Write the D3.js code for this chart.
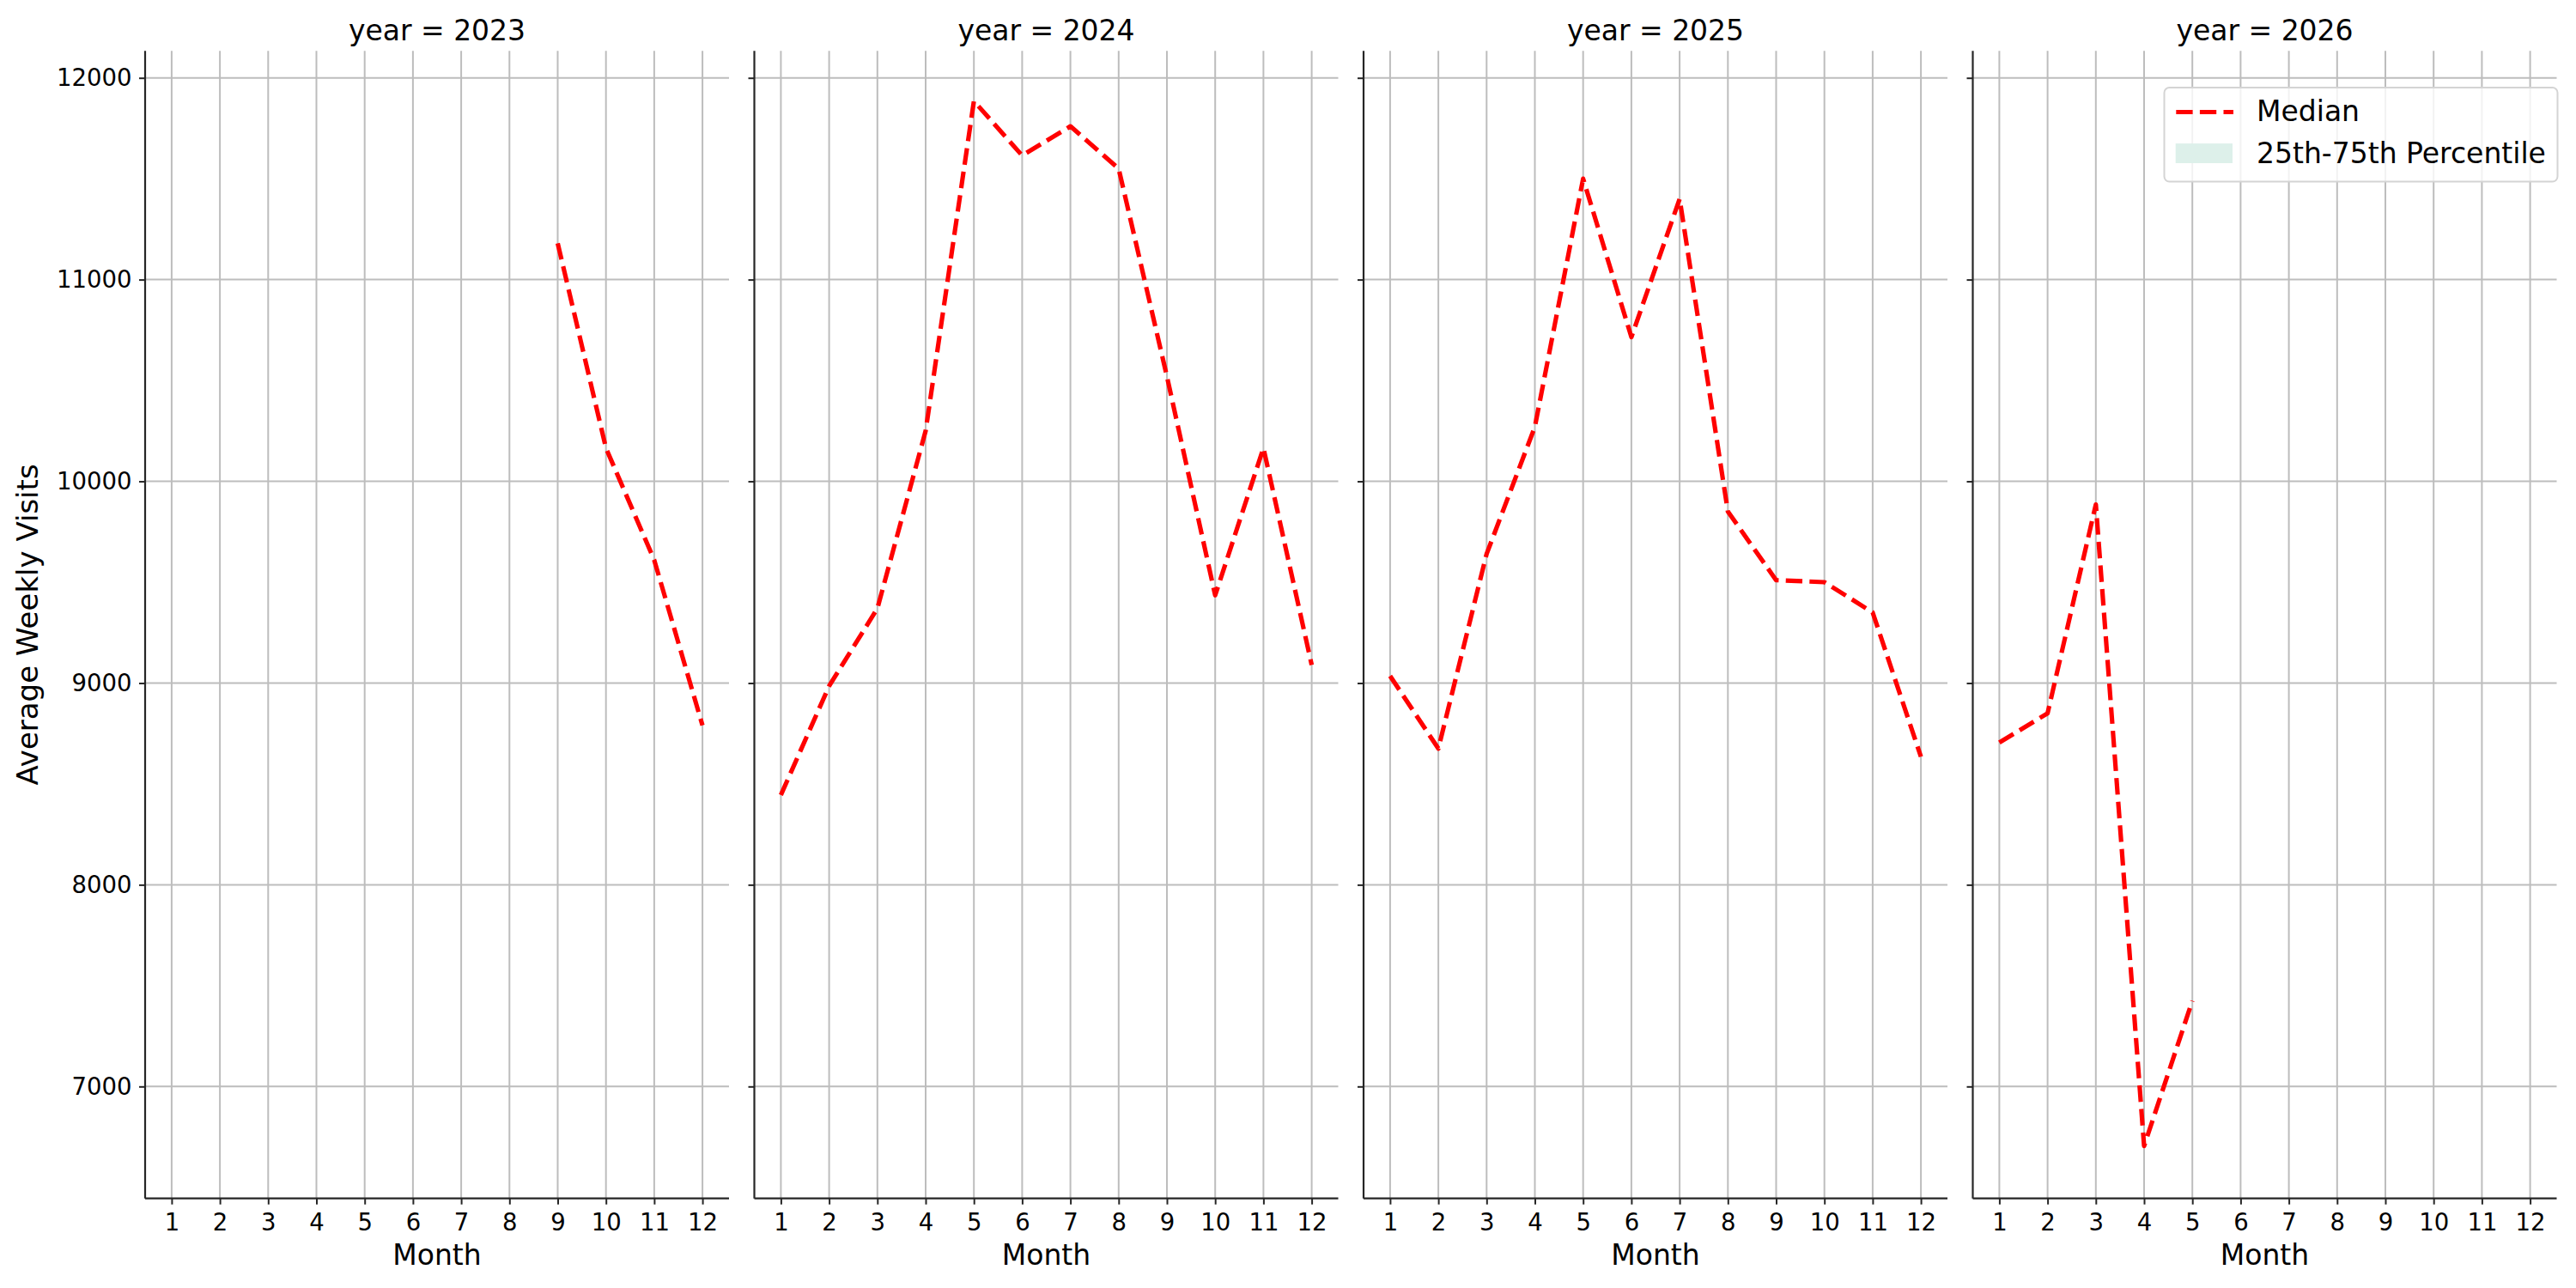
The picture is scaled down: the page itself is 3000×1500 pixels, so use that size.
<!DOCTYPE html>
<html>
<head>
<meta charset="utf-8">
<script src="https://cdn.jsdelivr.net/npm/d3@7"></script>
<style>
  html, body { margin: 0; padding: 0; background: #fff; }
  svg { display: block; }
  text { font-family: "DejaVu Sans", sans-serif; fill: #000; }
</style>
</head>
<body>
<svg id="chart" width="3000" height="1500"></svg>
<script>
// ---- data ----
const years = [2023, 2024, 2025, 2026];
const months = [1, 2, 3, 4, 5, 6, 7, 8, 9, 10, 11, 12];
const median2023 = [null, null, null, null, null, null, null, null, 11180, 10165, 9610, 8790];
const median2024 = [8445, 8985, 9370, 10250, 11885, 11615, 11760, 11550, 10520, 9435, 10165, 9090];
const median2025 = [9035, 8675, 9640, 10270, 11500, 10715, 11400, 9850, 9510, 9500, 9350, 8635];
const median2026 = [8705, 8850, 9885, 6705, 7425, null, null, null, null, null, null, null];
const yTicks = [7000, 8000, 9000, 10000, 11000, 12000];
const legendLabels = ["Median", "25th-75th Percentile"];
const titlePrefix = "year = ";
const xLabel = "Month";
const yLabel = "Average Weekly Visits";

const seriesByYear = [median2023, median2024, median2025, median2026];

// ---- layout ----
const svg = d3.select("#chart");
const panelLeft0 = 169, panelStep = 709.5, panelW = 680;
const plotTop = 59.2, plotBottom = 1395.7;
const gridColor = "#bdbdbd", spineColor = "#262626";

const yScale = d3.scaleLinear().domain([6445, 12134]).range([plotBottom, plotTop]);

years.forEach((yr, i) => {
  const left = panelLeft0 + i * panelStep;
  const x = d3.scaleLinear().domain([0.45, 12.55]).range([left, left + panelW]);
  const g = svg.append("g");

  // grid
  g.append("g").selectAll("line").data(months).join("line")
    .attr("x1", d => x(d)).attr("x2", d => x(d))
    .attr("y1", plotTop).attr("y2", plotBottom)
    .attr("stroke", gridColor).attr("stroke-width", 2);
  g.append("g").selectAll("line").data(yTicks).join("line")
    .attr("x1", left).attr("x2", left + panelW)
    .attr("y1", d => yScale(d)).attr("y2", d => yScale(d))
    .attr("stroke", gridColor).attr("stroke-width", 2);

  // axes
  const xAxis = d3.axisBottom(x).tickValues(months).tickSize(7).tickPadding(10).tickSizeOuter(0);
  const gx = g.append("g").attr("transform", `translate(0,${plotBottom})`).call(xAxis);
  gx.select(".domain").attr("stroke", spineColor).attr("stroke-width", 2.2)
    .attr("d", `M${left},0H${left + panelW}`);
  gx.selectAll(".tick line").attr("stroke", spineColor).attr("stroke-width", 2);
  gx.selectAll(".tick text").attr("font-size", 27.5).attr("font-family", "DejaVu Sans")
    .attr("fill", "#000").attr("dy", null).attr("y", 37);

  const yAxis = d3.axisLeft(yScale).tickValues(yTicks).tickSize(7).tickPadding(8).tickSizeOuter(0)
    .tickFormat(i === 0 ? d3.format("d") : () => "");
  const gy = g.append("g").attr("transform", `translate(${left},0)`).call(yAxis);
  gy.select(".domain").attr("stroke", spineColor).attr("stroke-width", 2.2)
    .attr("d", `M0,${plotTop}V${plotBottom}`);
  gy.selectAll(".tick line").attr("stroke", spineColor).attr("stroke-width", 2);
  gy.selectAll(".tick text").attr("font-size", 27.5).attr("font-family", "DejaVu Sans")
    .attr("fill", "#000").attr("x", -15.5);

  // median line
  const data = months.map((m, k) => ({ m, v: seriesByYear[i][k] }));
  const line = d3.line().defined(d => d.v != null).x(d => x(d.m)).y(d => yScale(d.v));
  g.append("path").datum(data)
    .attr("d", line)
    .attr("fill", "none")
    .attr("stroke", "#ff0000")
    .attr("stroke-width", 5.2)
    .attr("stroke-dasharray", "19.3 8.3")
    .attr("stroke-linejoin", "round");

  // title
  g.append("text").attr("x", left + panelW / 2).attr("y", 47.3)
    .attr("text-anchor", "middle").attr("font-size", 33)
    .text(titlePrefix + yr);

  // x label
  g.append("text").attr("x", left + panelW / 2).attr("y", 1473)
    .attr("text-anchor", "middle").attr("font-size", 33)
    .text(xLabel);
});

// y label
svg.append("text")
  .attr("transform", `translate(44,${(plotTop + plotBottom) / 2}) rotate(-90)`)
  .attr("text-anchor", "middle").attr("font-size", 34)
  .text(yLabel);

// legend
const lg = svg.append("g");
lg.append("rect").attr("x", 2520.5).attr("y", 102).attr("width", 458).attr("height", 109.6)
  .attr("rx", 6).attr("fill", "#fff").attr("fill-opacity", 0.8)
  .attr("stroke", "#d4d4d4").attr("stroke-width", 2);
lg.append("line").attr("x1", 2534.3).attr("x2", 2601).attr("y1", 130.5).attr("y2", 130.5)
  .attr("stroke", "#ff0000").attr("stroke-width", 5.2).attr("stroke-dasharray", "19.3 8.3");
lg.append("rect").attr("x", 2533.7).attr("y", 167.1).attr("width", 66.3).attr("height", 22.9)
  .attr("fill", "#ddf0ea");
lg.append("text").attr("x", 2628).attr("y", 141.3).attr("font-size", 33).text(legendLabels[0]);
lg.append("text").attr("x", 2628).attr("y", 190).attr("font-size", 33).text(legendLabels[1]);
</script>
</body>
</html>
